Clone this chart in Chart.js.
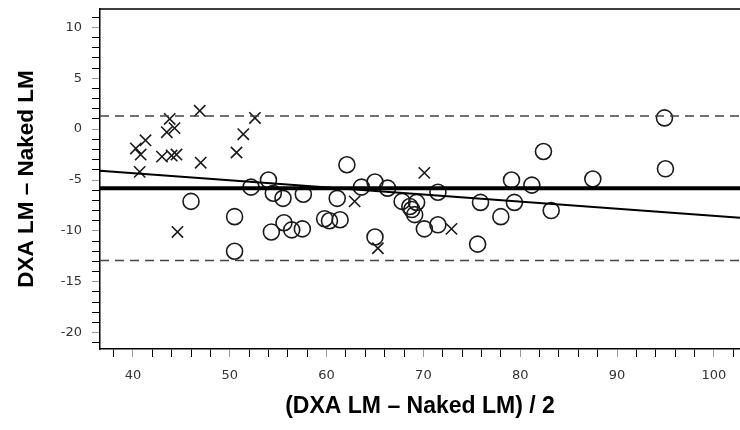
<!DOCTYPE html>
<html lang="en">
<head>
<meta charset="UTF-8">
<title>Bland-Altman DXA LM</title>
<script src="https://cdn.jsdelivr.net/npm/chart.js@4/dist/chart.umd.min.js"></script>
<style>
    body { margin: 0; background: #fff; }
    .wrap { width: 740px; height: 430px; }
</style>
</head>
<body>
<div class="wrap"><canvas id="baChart" width="740" height="430"></canvas></div>
<script>
// crosses (x marker group)
const crossX = [46.9, 43.8, 44.3, 43.5, 41.3, 40.3, 40.8, 43.0, 44.0, 44.5, 47.0, 40.7, 44.6, 52.6, 51.4, 50.7, 62.9, 65.3, 70.1, 72.9];
const crossY = [1.8, 1.0, 0.1, -0.3, -1.1, -1.9, -2.5, -2.7, -2.6, -2.5, -3.3, -4.2, -10.1, 1.1, -0.5, -2.3, -7.1, -11.7, -4.3, -9.8];

// circles
const circleX = [46.0, 50.5, 50.5, 52.2, 54.0, 54.5, 55.5, 57.6, 54.3, 55.6, 56.4, 57.5, 62.1, 61.1, 59.8, 60.3, 61.4, 63.6, 65.0, 66.3,
                 65.0, 67.8, 71.5, 68.6, 69.3, 68.8, 69.1, 70.1, 71.5, 75.9, 75.6, 82.4, 79.1, 81.2, 87.5, 79.4, 78.0, 83.2, 94.9, 95.0];
const circleY = [-7.1, -8.6, -12.0, -5.7, -5.0, -6.3, -6.8, -6.4, -10.1, -9.2, -9.9, -9.8, -3.5, -6.8, -8.8, -9.0, -8.9, -5.7, -5.2, -5.8,
                 -10.6, -7.1, -6.2, -7.6, -7.2, -7.9, -8.4, -9.8, -9.4, -7.2, -11.3, -2.2, -5.0, -5.5, -4.9, -7.2, -8.6, -8.0, 1.1, -3.9];

// reference lines
const meanDiff = -5.8;
const upperLoA = 1.3;
const lowerLoA = -12.9;
const regX = [36.6, 102.7];
const regY = [-4.1, -8.7];

// axes
const xRange = [36.6, 102.7];
const yRange = [-21.6, 11.8];
const xTickLabels = [40, 50, 60, 70, 80, 90, 100];
const yTickLabels = [10, 5, 0, -5, -10, -15, -20];

const toPts = (xs, ys) => xs.map((x, i) => ({ x: x, y: ys[i] }));
const hLine = (y) => xRange.map(x => ({ x: x, y: y }));

const frameTop = {
    id: 'frameTop',
    afterDraw(chart) {
        const a = chart.chartArea, ctx = chart.ctx;
        ctx.save();
        ctx.strokeStyle = '#000';
        ctx.lineWidth = 1.5;
        ctx.beginPath();
        ctx.moveTo(a.left, a.top);
        ctx.lineTo(a.right, a.top);
        ctx.stroke();
        ctx.restore();
    }
};

const lineStyle = { showLine: true, pointRadius: 0, fill: false };

new Chart(document.getElementById('baChart'), {
    type: 'scatter',
    data: {
        datasets: [
            { ...lineStyle, data: hLine(upperLoA), borderColor: '#444', borderWidth: 1.5, borderDash: [9, 6] },
            { ...lineStyle, data: hLine(lowerLoA), borderColor: '#444', borderWidth: 1.5, borderDash: [9, 6] },
            { ...lineStyle, data: hLine(meanDiff), borderColor: '#000', borderWidth: 4 },
            { ...lineStyle, data: toPts(regX, regY), borderColor: '#000', borderWidth: 2 },
            {
                data: toPts(crossX, crossY),
                pointStyle: 'crossRot', pointRadius: 8, borderColor: '#1a1a1a', borderWidth: 1.6
            },
            {
                data: toPts(circleX, circleY),
                pointStyle: 'circle', pointRadius: 8, borderColor: '#1a1a1a', borderWidth: 1.6,
                backgroundColor: 'rgba(0,0,0,0)'
            }
        ]
    },
    options: {
        responsive: false,
        animation: false,
        layout: { autoPadding: false, padding: { top: 9, right: 0, left: 0, bottom: 0 } },
        plugins: { legend: { display: false }, tooltip: { enabled: false } },
        scales: {
            x: {
                type: 'linear',
                min: xRange[0], max: xRange[1],
                afterFit: (s) => { s.height = 81; s.paddingLeft = 0; s.paddingRight = 0; },
                border: { display: true, color: '#000', width: 1.5 },
                grid: {
                    drawOnChartArea: false, drawTicks: true, tickLength: 8,
                    tickColor: (c) => xTickLabels.includes(c.tick.value) ? '#999' : '#000'
                },
                ticks: {
                    stepSize: 2, includeBounds: false, autoSkip: false, maxRotation: 0,
                    padding: 11, color: '#333',
                    font: { family: 'DejaVu Sans', size: 13 },
                    callback: (v) => xTickLabels.includes(v) ? String(v) : ''
                },
                title: {
                    display: true, text: '(DXA LM \u2013 Naked LM) / 2', color: '#000',
                    font: { family: 'Liberation Sans', size: 23, weight: 'bold' },
                    padding: { top: 0, bottom: 10 }
                }
            },
            y: {
                type: 'linear',
                min: yRange[0], max: yRange[1],
                afterFit: (s) => { s.width = 100; s.paddingTop = 0; s.paddingBottom = 0; },
                border: { display: true, color: '#000', width: 1.5 },
                grid: {
                    drawOnChartArea: false, drawTicks: true, tickLength: 8,
                    tickColor: (c) => yTickLabels.includes(c.tick.value) ? '#999' : '#000'
                },
                ticks: {
                    stepSize: 1, includeBounds: false, autoSkip: false,
                    padding: 10, color: '#333',
                    font: { family: 'DejaVu Sans', size: 13 },
                    callback: (v) => yTickLabels.includes(v) ? String(v) : ''
                },
                title: {
                    display: true, text: 'DXA LM \u2013 Naked LM', color: '#000',
                    font: { family: 'Liberation Sans', size: 22.5, weight: 'bold' },
                    padding: { top: 13, bottom: 0 }
                }
            }
        }
    },
    plugins: [frameTop]
});
</script>
</body>
</html>
